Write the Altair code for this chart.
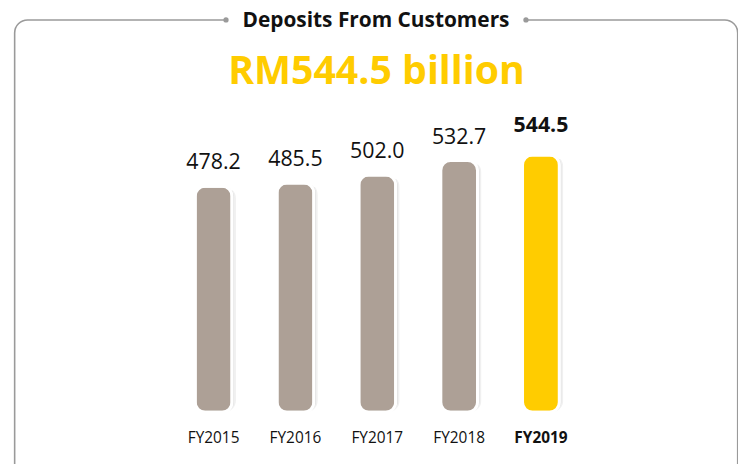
import altair as alt
import pandas as pd

years = ["FY2015", "FY2016", "FY2017", "FY2018", "FY2019"]
values = [478.2, 485.5, 502.0, 532.7, 544.5]
value_labels = ["478.2", "485.5", "502.0", "532.7", "544.5"]
highlight = "FY2019"
title_text = "Deposits From Customers"
headline = "RM544.5 billion"

GRAY = "#ADA096"
YELLOW = "#FFCC00"
FRAME = "#9a9a9a"
FONT = "Open Sans"

df = pd.DataFrame({"year": years, "value": values, "label": value_labels})
one = pd.DataFrame({"a": [0]})

W, H = 735, 456

x_enc = alt.X("year:N", sort=years, axis=None,
              scale=alt.Scale(range=[165.8, 577.8], paddingInner=0.55, paddingOuter=0.275))
y_enc = alt.Y("value:Q", axis=None,
              scale=alt.Scale(domain=[0, 544.5], range=[405.5, 146.5], nice=False, zero=True))

base = alt.Chart(df)

frame = alt.Chart(one).mark_rect(
    cornerRadius=13, fill="white", fillOpacity=0, stroke=FRAME, strokeWidth=1.6
).encode(x=alt.value(6.7), x2=alt.value(734.7), y=alt.value(10.5), y2=alt.value(490))

gap = alt.Chart(one).mark_rect(color="white").encode(
    x=alt.value(220), x2=alt.value(521), y=alt.value(6), y2=alt.value(15))

dot_l = alt.Chart(one).mark_circle(size=28, color=FRAME, opacity=1).encode(
    x=alt.value(219.5), y=alt.value(10.5))
dot_r = alt.Chart(one).mark_circle(size=28, color=FRAME, opacity=1).encode(
    x=alt.value(521.5), y=alt.value(10.5))

title = alt.Chart(one).mark_text(
    text=title_text, font=FONT, fontWeight="bold", fontSize=21, color="#111",
    align="center", baseline="middle"
).encode(x=alt.value(370.5), y=alt.value(12))

head = alt.Chart(one).mark_text(
    text=headline, font=FONT, fontWeight="bold", fontSize=39.5, color=YELLOW,
    align="center", baseline="middle"
).encode(x=alt.value(371), y=alt.value(63))

shadow1 = base.mark_bar(cornerRadius=12, color="#000", opacity=0.06,
                        xOffset=4, yOffset=4).encode(x=x_enc, y=y_enc)
shadow2 = base.mark_bar(cornerRadius=11, color="#000", opacity=0.09,
                        xOffset=2.2, yOffset=2.2).encode(x=x_enc, y=y_enc)

bars = base.mark_bar(cornerRadius=10, stroke="white", strokeWidth=3).encode(
    x=x_enc, y=y_enc,
    color=alt.condition(alt.datum.year == highlight, alt.value(YELLOW), alt.value(GRAY)),
)

vals = base.transform_filter(alt.datum.year != highlight).mark_text(
    font=FONT, fontSize=21.5, color="#111", baseline="middle", dy=-23
).encode(x=x_enc, y=y_enc, text="label:N")

vals_hl = base.transform_filter(alt.datum.year == highlight).mark_text(
    font=FONT, fontSize=21.5, fontWeight="bold", color="#111", baseline="middle", dy=-29
).encode(x=x_enc, y=y_enc, text="label:N")

xlab = base.transform_filter(alt.datum.year != highlight).mark_text(
    font=FONT, fontSize=15.5, color="#111", baseline="middle"
).encode(x=x_enc, y=alt.value(431.5), text="year:N")

xlab_hl = base.transform_filter(alt.datum.year == highlight).mark_text(
    font=FONT, fontSize=15.5, fontWeight="bold", color="#111", baseline="middle"
).encode(x=x_enc, y=alt.value(431.5), text="year:N")

chart = alt.layer(
    frame, gap, dot_l, dot_r, title, head,
    shadow1, shadow2, bars, vals, vals_hl, xlab, xlab_hl
).properties(
    width=W, height=H, padding=0, background="white",
    autosize=alt.AutoSizeParams(type="none"),
).configure_view(stroke=None)

chart.save("out.html", embed_options={"renderer": "svg", "actions": False})
